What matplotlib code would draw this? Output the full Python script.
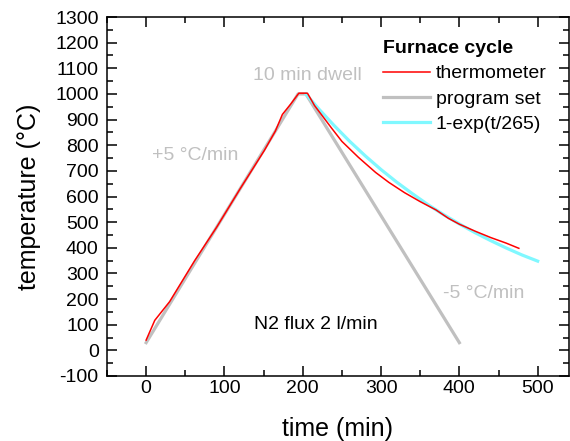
import matplotlib.pyplot as plt
from matplotlib.ticker import MultipleLocator

plt.rcParams['font.family'] = ['Liberation Sans', 'DejaVu Sans']
plt.rcParams['axes.unicode_minus'] = False

# program set points (min, degC)
prog_t = [0, 194, 204, 400]
prog_T = [30, 1000, 1000, 30]

# thermometer reading
therm_t = [0, 11, 30, 62, 90, 120, 151, 165, 174, 185, 195, 206,
           215, 237, 250, 271, 293, 310, 330, 350, 370, 386, 400, 420, 440, 460, 476]
therm_T = [40, 117, 190, 350, 480, 630, 780, 855, 920, 962, 1003, 1003,
           955, 866, 815, 753, 694, 655, 615, 580, 548, 515, 492, 465, 440, 418, 398]

# 1-exp(t/265) fit
fit_t = [204, 220, 240, 260, 280, 300, 320, 340, 360, 380, 400, 420, 440, 460, 480, 500]
fit_T = [1000, 943, 877, 815, 758, 705, 656, 611, 568, 529, 493, 459, 428, 399, 372, 348]

fig = plt.figure(figsize=(5.7, 4.41), dpi=100)
ax = fig.add_axes([0.1877, 0.1474, 0.8105, 0.814])

ax.plot(prog_t, prog_T, color='#c0c0c0', lw=2.3, label='program set', zorder=2)
ax.plot(fit_t, fit_T, color='#80f8ff', lw=2.3, label='1-exp(t/265)', zorder=3)
ax.plot(therm_t, therm_T, color='#ff0000', lw=1.1, label='thermometer', zorder=4)

ax.set_xlim(-50, 540)
ax.set_ylim(-100, 1300)
ax.xaxis.set_major_locator(MultipleLocator(100))
ax.xaxis.set_minor_locator(MultipleLocator(50))
ax.yaxis.set_major_locator(MultipleLocator(100))
ax.yaxis.set_minor_locator(MultipleLocator(50))
ax.tick_params(which='both', direction='in', top=True, right=True, labelsize=14, width=1.1)
ax.tick_params(which='major', length=7)
ax.tick_params(which='minor', length=4)
ax.tick_params(axis='x', which='major', pad=3)
ax.tick_params(axis='y', which='major', pad=6)
for s in ax.spines.values():
    s.set_linewidth(1.1)

ax.set_xlabel('time (min)', fontsize=18, labelpad=14)
ax.set_ylabel('temperature (°C)', fontsize=18, labelpad=10)

gray = '#c0c0c0'
ax.text(62, 760, '+5 °C/min', color=gray, fontsize=14, ha='center', va='center')
ax.text(206, 1073, '10 min dwell', color=gray, fontsize=14, ha='center', va='center')
ax.text(431, 222, '-5 °C/min', color=gray, fontsize=14, ha='center', va='center')
ax.text(217, 101, 'N2 flux 2 l/min', color='black', fontsize=14, ha='center', va='center')

h, l = ax.get_legend_handles_labels()
order = [2, 0, 1]
leg = ax.legend([h[i] for i in order], [l[i] for i in order], loc='upper left',
                bbox_to_anchor=(383 / 570, 1 - 40 / 441), bbox_transform=fig.transFigure,
                frameon=False, fontsize=14, title='Furnace cycle',
                title_fontproperties={'weight': 'bold', 'size': 14},
                handlelength=2.4, handletextpad=0.3, labelspacing=0.4,
                borderpad=0, borderaxespad=0, alignment='left')

plt.savefig('out.png', dpi=100)
